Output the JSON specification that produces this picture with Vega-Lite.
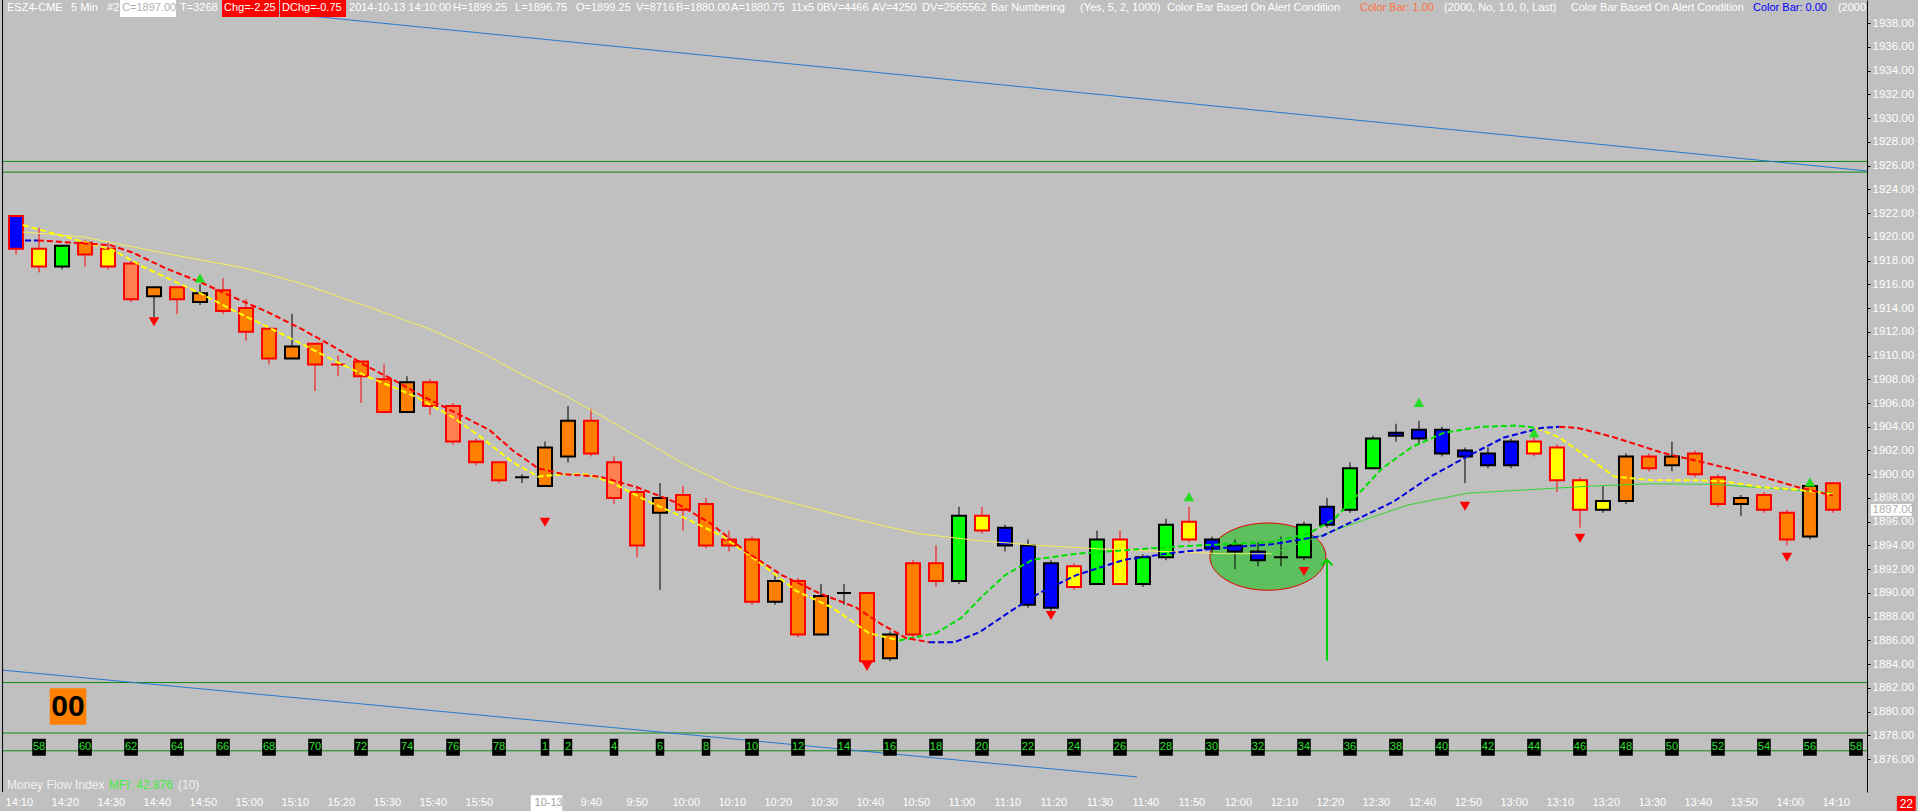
{
"$schema":"https://vega.github.io/schema/vega-lite/v6.json",
"width":1865,"height":792,
"autosize":{"type":"none"},
"padding":{"left":2,"top":0,"right":51,"bottom":19},
"background":"#C0C0C0",
"config":{"view":{"stroke":null},"text":{"font":"Liberation Sans"},"axis":{"labelFont":"Liberation Sans","domain":true,"ticks":true},"scale":{"continuousPadding":0}},
"datasets":{
"candles":[
{"i":0,"o":1919.0,"h":1921.75,"l":1918.5,"c":1921.75,"b":"blue","e":"red"},
{"i":1,"o":1919.0,"h":1920.75,"l":1917.0,"c":1917.5,"b":"yellow","e":"red"},
{"i":2,"o":1917.5,"h":1919.25,"l":1917.25,"c":1919.25,"b":"green","e":"black"},
{"i":3,"o":1919.5,"h":1919.75,"l":1917.5,"c":1918.5,"b":"orange","e":"red"},
{"i":4,"o":1919.0,"h":1919.5,"l":1917.25,"c":1917.5,"b":"yellow","e":"red"},
{"i":5,"o":1917.75,"h":1918.0,"l":1914.5,"c":1914.75,"b":"coral","e":"red"},
{"i":6,"o":1915.75,"h":1915.75,"l":1913.25,"c":1915.0,"b":"orange","e":"black"},
{"i":7,"o":1915.75,"h":1915.75,"l":1913.5,"c":1914.75,"b":"orange","e":"red"},
{"i":8,"o":1915.25,"h":1916.0,"l":1914.25,"c":1914.5,"b":"orange","e":"black"},
{"i":9,"o":1915.5,"h":1916.5,"l":1913.5,"c":1913.75,"b":"orange","e":"red"},
{"i":10,"o":1914.0,"h":1914.75,"l":1911.25,"c":1912.0,"b":"orange","e":"red"},
{"i":11,"o":1912.25,"h":1912.25,"l":1909.25,"c":1909.75,"b":"orange","e":"red"},
{"i":12,"o":1910.75,"h":1913.5,"l":1909.75,"c":1909.75,"b":"orange","e":"black"},
{"i":13,"o":1911.0,"h":1911.0,"l":1907.0,"c":1909.25,"b":"orange","e":"red"},
{"i":14,"o":1909.25,"h":1910.0,"l":1908.25,"c":1909.25,"b":"orange","e":"red"},
{"i":15,"o":1909.5,"h":1909.5,"l":1906.0,"c":1908.25,"b":"orange","e":"red"},
{"i":16,"o":1908.0,"h":1909.25,"l":1905.25,"c":1905.25,"b":"orange","e":"red"},
{"i":17,"o":1907.75,"h":1908.25,"l":1905.25,"c":1905.25,"b":"orange","e":"black"},
{"i":18,"o":1907.75,"h":1908.0,"l":1905.0,"c":1905.75,"b":"orange","e":"red"},
{"i":19,"o":1905.75,"h":1906.0,"l":1902.5,"c":1902.75,"b":"coral","e":"red"},
{"i":20,"o":1902.75,"h":1903.0,"l":1900.75,"c":1901.0,"b":"orange","e":"red"},
{"i":21,"o":1901.0,"h":1901.0,"l":1899.25,"c":1899.5,"b":"orange","e":"red"},
{"i":22,"o":1899.75,"h":1900.0,"l":1899.25,"c":1899.75,"b":"orange","e":"black"},
{"i":23,"o":1902.25,"h":1902.75,"l":1899.0,"c":1899.0,"b":"orange","e":"black"},
{"i":24,"o":1904.5,"h":1905.75,"l":1901.0,"c":1901.5,"b":"orange","e":"black"},
{"i":25,"o":1904.5,"h":1905.5,"l":1901.5,"c":1901.75,"b":"orange","e":"red"},
{"i":26,"o":1901.0,"h":1901.5,"l":1897.5,"c":1898.0,"b":"coral","e":"red"},
{"i":27,"o":1898.5,"h":1899.0,"l":1893.0,"c":1894.0,"b":"orange","e":"red"},
{"i":28,"o":1898.0,"h":1899.25,"l":1890.25,"c":1896.75,"b":"orange","e":"black"},
{"i":29,"o":1898.25,"h":1899.0,"l":1895.25,"c":1897.0,"b":"orange","e":"red"},
{"i":30,"o":1897.5,"h":1898.0,"l":1893.75,"c":1894.0,"b":"orange","e":"red"},
{"i":31,"o":1894.5,"h":1895.25,"l":1893.5,"c":1894.0,"b":"orange","e":"red"},
{"i":32,"o":1894.5,"h":1894.75,"l":1889.0,"c":1889.25,"b":"orange","e":"red"},
{"i":33,"o":1891.0,"h":1891.5,"l":1889.0,"c":1889.25,"b":"orange","e":"black"},
{"i":34,"o":1891.0,"h":1891.25,"l":1886.25,"c":1886.5,"b":"orange","e":"red"},
{"i":35,"o":1889.75,"h":1890.75,"l":1886.5,"c":1886.5,"b":"orange","e":"black"},
{"i":36,"o":1890.0,"h":1890.75,"l":1889.0,"c":1890.0,"b":"orange","e":"black"},
{"i":37,"o":1890.0,"h":1890.0,"l":1884.25,"c":1884.25,"b":"orange","e":"red"},
{"i":38,"o":1884.5,"h":1886.75,"l":1884.25,"c":1886.5,"b":"orange","e":"black"},
{"i":39,"o":1886.5,"h":1892.75,"l":1886.25,"c":1892.5,"b":"orange","e":"red"},
{"i":40,"o":1892.5,"h":1894.0,"l":1890.5,"c":1891.0,"b":"orange","e":"red"},
{"i":41,"o":1891.0,"h":1897.25,"l":1890.75,"c":1896.5,"b":"green","e":"black"},
{"i":42,"o":1896.5,"h":1897.25,"l":1895.0,"c":1895.25,"b":"yellow","e":"red"},
{"i":43,"o":1895.5,"h":1895.75,"l":1893.5,"c":1894.0,"b":"blue","e":"black"},
{"i":44,"o":1894.0,"h":1894.5,"l":1888.75,"c":1889.0,"b":"blue","e":"black"},
{"i":45,"o":1892.5,"h":1892.75,"l":1888.5,"c":1888.75,"b":"blue","e":"black"},
{"i":46,"o":1890.5,"h":1892.5,"l":1890.25,"c":1892.25,"b":"yellow","e":"red"},
{"i":47,"o":1890.75,"h":1895.25,"l":1890.75,"c":1894.5,"b":"green","e":"black"},
{"i":48,"o":1894.5,"h":1895.25,"l":1890.75,"c":1890.75,"b":"yellow","e":"red"},
{"i":49,"o":1890.75,"h":1893.25,"l":1890.5,"c":1893.0,"b":"green","e":"black"},
{"i":50,"o":1893.0,"h":1896.25,"l":1892.75,"c":1895.75,"b":"green","e":"black"},
{"i":51,"o":1896.0,"h":1897.25,"l":1894.25,"c":1894.5,"b":"yellow","e":"red"},
{"i":52,"o":1894.5,"h":1894.75,"l":1893.25,"c":1893.75,"b":"blue","e":"black"},
{"i":53,"o":1894.0,"h":1894.5,"l":1892.0,"c":1893.5,"b":"blue","e":"black"},
{"i":54,"o":1893.5,"h":1894.25,"l":1892.25,"c":1892.75,"b":"blue","e":"black"},
{"i":55,"o":1893.0,"h":1894.75,"l":1892.25,"c":1893.0,"b":"orange","e":"black"},
{"i":56,"o":1893.0,"h":1896.0,"l":1892.75,"c":1895.75,"b":"green","e":"black"},
{"i":57,"o":1895.75,"h":1898.0,"l":1895.5,"c":1897.25,"b":"blue","e":"black"},
{"i":58,"o":1897.0,"h":1901.0,"l":1896.75,"c":1900.5,"b":"green","e":"black"},
{"i":59,"o":1900.5,"h":1903.25,"l":1900.5,"c":1903.0,"b":"green","e":"black"},
{"i":60,"o":1903.25,"h":1904.25,"l":1902.75,"c":1903.5,"b":"blue","e":"black"},
{"i":61,"o":1903.0,"h":1904.5,"l":1902.5,"c":1903.75,"b":"blue","e":"black"},
{"i":62,"o":1903.75,"h":1904.0,"l":1901.5,"c":1901.75,"b":"blue","e":"black"},
{"i":63,"o":1902.0,"h":1902.25,"l":1899.25,"c":1901.5,"b":"blue","e":"black"},
{"i":64,"o":1901.75,"h":1902.25,"l":1900.5,"c":1900.75,"b":"blue","e":"black"},
{"i":65,"o":1900.75,"h":1903.0,"l":1900.5,"c":1902.75,"b":"blue","e":"black"},
{"i":66,"o":1902.75,"h":1903.25,"l":1901.5,"c":1901.75,"b":"yellow","e":"red"},
{"i":67,"o":1902.25,"h":1902.5,"l":1898.5,"c":1899.5,"b":"yellow","e":"red"},
{"i":68,"o":1899.5,"h":1899.75,"l":1895.5,"c":1897.0,"b":"yellow","e":"red"},
{"i":69,"o":1897.0,"h":1899.0,"l":1896.75,"c":1897.75,"b":"yellow","e":"black"},
{"i":70,"o":1897.75,"h":1901.75,"l":1897.5,"c":1901.5,"b":"orange","e":"black"},
{"i":71,"o":1901.5,"h":1901.75,"l":1900.25,"c":1900.5,"b":"orange","e":"red"},
{"i":72,"o":1901.5,"h":1902.75,"l":1900.25,"c":1900.75,"b":"orange","e":"black"},
{"i":73,"o":1901.75,"h":1902.0,"l":1899.75,"c":1900.0,"b":"orange","e":"red"},
{"i":74,"o":1899.75,"h":1900.0,"l":1897.25,"c":1897.5,"b":"orange","e":"red"},
{"i":75,"o":1898.0,"h":1898.25,"l":1896.5,"c":1897.5,"b":"orange","e":"black"},
{"i":76,"o":1898.25,"h":1898.5,"l":1896.75,"c":1897.0,"b":"orange","e":"red"},
{"i":77,"o":1896.75,"h":1897.0,"l":1894.0,"c":1894.5,"b":"orange","e":"red"},
{"i":78,"o":1894.75,"h":1899.25,"l":1894.5,"c":1899.0,"b":"orange","e":"black"},
{"i":79,"o":1899.25,"h":1899.25,"l":1896.75,"c":1897.0,"b":"orange","e":"red"}
],
"ma":[
{"s":"f1","t":"y","i":0.3,"v":1921.0},{"s":"f1","t":"y","i":2.9,"v":1919.6},{"s":"f1","t":"y","i":4.2,"v":1918.9},{"s":"f1","t":"y","i":5.5,"v":1917.5},{"s":"f1","t":"y","i":8,"v":1915.25},{"s":"f1","t":"y","i":9.4,"v":1913.85},{"s":"f1","t":"y","i":10.9,"v":1912.45},{"s":"f1","t":"y","i":12.35,"v":1911.05},{"s":"f1","t":"y","i":13.8,"v":1909.6},{"s":"f1","t":"y","i":15.3,"v":1908.2},{"s":"f1","t":"y","i":16.7,"v":1907.1},{"s":"f1","t":"y","i":17.4,"v":1906.5},{"s":"f1","t":"y","i":19.0,"v":1904.8},{"s":"f1","t":"y","i":20.3,"v":1903.0},{"s":"f1","t":"y","i":21.6,"v":1901.0},{"s":"f1","t":"y","i":22.7,"v":1899.8},{"s":"f1","t":"y","i":23.8,"v":1900.0},{"s":"f1","t":"y","i":24.8,"v":1900.0},{"s":"f1","t":"y","i":25.9,"v":1899.3},{"s":"f1","t":"y","i":27.5,"v":1897.7},{"s":"f1","t":"y","i":29.1,"v":1896.3},{"s":"f1","t":"y","i":30.7,"v":1894.8},{"s":"f1","t":"y","i":32.3,"v":1892.6},{"s":"f1","t":"y","i":33.9,"v":1890.2},{"s":"f1","t":"y","i":35.5,"v":1888.75},{"s":"f1","t":"y","i":37.1,"v":1886.6},{"s":"f1","t":"y","i":38.4,"v":1886.0},
{"s":"f2","t":"g","i":38.4,"v":1886.0},{"s":"f2","t":"g","i":40,"v":1886.6},{"s":"f2","t":"g","i":41.1,"v":1887.9},{"s":"f2","t":"g","i":41.9,"v":1889.5},{"s":"f2","t":"g","i":43,"v":1891.5},{"s":"f2","t":"g","i":44.2,"v":1892.8},{"s":"f2","t":"g","i":46.1,"v":1893.3},{"s":"f2","t":"g","i":48.2,"v":1893.6},{"s":"f2","t":"g","i":50.4,"v":1893.9},{"s":"f2","t":"g","i":52.5,"v":1894.1},{"s":"f2","t":"g","i":54.6,"v":1894.3},{"s":"f2","t":"g","i":56.2,"v":1895.0},{"s":"f2","t":"g","i":57.3,"v":1896.2},{"s":"f2","t":"g","i":58.3,"v":1898.2},{"s":"f2","t":"g","i":59.4,"v":1900.5},{"s":"f2","t":"g","i":60.7,"v":1902.3},{"s":"f2","t":"g","i":62.1,"v":1903.5},{"s":"f2","t":"g","i":63.7,"v":1904.0},{"s":"f2","t":"g","i":65.3,"v":1904.1},{"s":"f2","t":"g","i":66.1,"v":1903.9},
{"s":"f3","t":"y","i":66.1,"v":1903.9},{"s":"f3","t":"y","i":67.1,"v":1903.1},{"s":"f3","t":"y","i":68.5,"v":1901.2},{"s":"f3","t":"y","i":69.5,"v":1899.8},{"s":"f3","t":"y","i":71.1,"v":1899.5},{"s":"f3","t":"y","i":72.7,"v":1899.5},{"s":"f3","t":"y","i":74.3,"v":1899.4},{"s":"f3","t":"y","i":75.9,"v":1898.9},{"s":"f3","t":"y","i":77.5,"v":1898.7},{"s":"f3","t":"y","i":79,"v":1898.3},
{"s":"m1","t":"b","i":0,"v":1919.7},{"s":"m1","t":"b","i":0.95,"v":1919.7},
{"s":"m2","t":"r","i":0.95,"v":1919.7},{"s":"m2","t":"r","i":4.1,"v":1919.3},{"s":"m2","t":"r","i":5.1,"v":1918.65},{"s":"m2","t":"r","i":6.5,"v":1917.35},{"s":"m2","t":"r","i":8,"v":1916.2},{"s":"m2","t":"r","i":9.4,"v":1914.95},{"s":"m2","t":"r","i":10.9,"v":1913.7},{"s":"m2","t":"r","i":12.35,"v":1912.3},{"s":"m2","t":"r","i":13.8,"v":1910.75},{"s":"m2","t":"r","i":15.3,"v":1909.05},{"s":"m2","t":"r","i":16.7,"v":1907.65},{"s":"m2","t":"r","i":17.6,"v":1906.65},{"s":"m2","t":"r","i":19.1,"v":1905.2},{"s":"m2","t":"r","i":20.6,"v":1903.7},{"s":"m2","t":"r","i":21.6,"v":1902.0},{"s":"m2","t":"r","i":22.7,"v":1900.5},{"s":"m2","t":"r","i":23.8,"v":1900.0},{"s":"m2","t":"r","i":25.4,"v":1899.8},{"s":"m2","t":"r","i":27,"v":1898.9},{"s":"m2","t":"r","i":28.6,"v":1897.7},{"s":"m2","t":"r","i":30.2,"v":1895.85},{"s":"m2","t":"r","i":31.8,"v":1893.4},{"s":"m2","t":"r","i":33.3,"v":1891.5},{"s":"m2","t":"r","i":34.9,"v":1890.0},{"s":"m2","t":"r","i":36.5,"v":1888.8},{"s":"m2","t":"r","i":37.6,"v":1887.4},{"s":"m2","t":"r","i":38.7,"v":1886.2},{"s":"m2","t":"r","i":39.7,"v":1885.85},
{"s":"m3","t":"b","i":39.7,"v":1885.85},{"s":"m3","t":"b","i":40.8,"v":1885.85},{"s":"m3","t":"b","i":41.9,"v":1886.7},{"s":"m3","t":"b","i":43.2,"v":1888.4},{"s":"m3","t":"b","i":44.5,"v":1890.0},{"s":"m3","t":"b","i":46.1,"v":1891.5},{"s":"m3","t":"b","i":48.2,"v":1892.8},{"s":"m3","t":"b","i":50.4,"v":1893.4},{"s":"m3","t":"b","i":52.5,"v":1893.8},{"s":"m3","t":"b","i":54.6,"v":1894.1},{"s":"m3","t":"b","i":56.8,"v":1894.8},{"s":"m3","t":"b","i":58.3,"v":1896.2},{"s":"m3","t":"b","i":59.9,"v":1897.7},{"s":"m3","t":"b","i":61.5,"v":1899.8},{"s":"m3","t":"b","i":63.1,"v":1901.5},{"s":"m3","t":"b","i":64.7,"v":1903.1},{"s":"m3","t":"b","i":66.3,"v":1903.9},{"s":"m3","t":"b","i":67.1,"v":1904.0},
{"s":"m4","t":"r","i":67.1,"v":1904.0},{"s":"m4","t":"r","i":67.9,"v":1903.9},{"s":"m4","t":"r","i":69.5,"v":1903.1},{"s":"m4","t":"r","i":71.6,"v":1901.8},{"s":"m4","t":"r","i":73.8,"v":1900.8},{"s":"m4","t":"r","i":75.9,"v":1899.8},{"s":"m4","t":"r","i":77.5,"v":1898.9},{"s":"m4","t":"r","i":79,"v":1898.2}
],
"slow":[
{"s":"s1","t":"y","i":0.3,"v":1920.4},{"s":"s1","t":"y","i":2.9,"v":1920.0},{"s":"s1","t":"y","i":6.5,"v":1918.6},{"s":"s1","t":"y","i":10,"v":1917.35},{"s":"s1","t":"y","i":12.35,"v":1916.1},{"s":"s1","t":"y","i":15.3,"v":1914.1},{"s":"s1","t":"y","i":18.1,"v":1912.15},{"s":"s1","t":"y","i":20.3,"v":1910.2},{"s":"s1","t":"y","i":21.9,"v":1908.5},{"s":"s1","t":"y","i":24,"v":1906.5},{"s":"s1","t":"y","i":26,"v":1904.3},{"s":"s1","t":"y","i":29.1,"v":1900.8},{"s":"s1","t":"y","i":31.2,"v":1898.9},{"s":"s1","t":"y","i":33.9,"v":1897.5},{"s":"s1","t":"y","i":36.5,"v":1896.2},{"s":"s1","t":"y","i":39.2,"v":1895.0},{"s":"s1","t":"y","i":41.9,"v":1894.4},{"s":"s1","t":"y","i":44.5,"v":1894.0},{"s":"s1","t":"y","i":47.2,"v":1893.7},{"s":"s1","t":"y","i":49.8,"v":1893.5},{"s":"s1","t":"y","i":52.5,"v":1893.3},{"s":"s1","t":"y","i":54.6,"v":1893.3},
{"s":"s2","t":"g","i":54.6,"v":1893.3},{"s":"s2","t":"g","i":57.8,"v":1895.6},{"s":"s2","t":"g","i":60.5,"v":1897.4},{"s":"s2","t":"g","i":63.1,"v":1898.4},{"s":"s2","t":"g","i":65.8,"v":1898.7},{"s":"s2","t":"g","i":68.5,"v":1899.0},{"s":"s2","t":"g","i":71.1,"v":1899.2},{"s":"s2","t":"g","i":73.8,"v":1899.15},{"s":"s2","t":"g","i":76.4,"v":1898.8},{"s":"s2","t":"g","i":79,"v":1898.4}
],
"arrows":[
{"i":6,"v":1912.85,"d":"dn"},{"i":8,"v":1916.53,"d":"up"},{"i":23,"v":1895.96,"d":"dn"},{"i":37,"v":1883.8,"d":"dn"},{"i":45,"v":1888.1,"d":"dn"},{"i":51,"v":1898.1,"d":"up"},{"i":56,"v":1891.8,"d":"dn"},{"i":61,"v":1906.05,"d":"up"},{"i":63,"v":1897.3,"d":"dn"},{"i":66,"v":1903.5,"d":"up"},{"i":68,"v":1894.6,"d":"dn"},{"i":77,"v":1893.0,"d":"dn"},{"i":78,"v":1899.35,"d":"up"}
],
"hlines":[{"v":1926.35},{"v":1925.45},{"v":1882.45},{"v":1878.2},{"v":1876.7}],
"trend":[{"ln":"a","i":10.2,"v":1939.1},{"ln":"a","i":80.48,"v":1925.55},{"ln":"b","i":-0.61,"v":1883.5},{"ln":"b","i":48.74,"v":1874.5}],
"nums":[
{"i":1,"n":"58"},{"i":3,"n":"60"},{"i":5,"n":"62"},{"i":7,"n":"64"},{"i":9,"n":"66"},{"i":11,"n":"68"},{"i":13,"n":"70"},{"i":15,"n":"72"},{"i":17,"n":"74"},{"i":19,"n":"76"},{"i":21,"n":"78"},
{"i":23,"n":"1"},{"i":24,"n":"2"},{"i":26,"n":"4"},{"i":28,"n":"6"},{"i":30,"n":"8"},{"i":32,"n":"10"},{"i":34,"n":"12"},{"i":36,"n":"14"},{"i":38,"n":"16"},{"i":40,"n":"18"},{"i":42,"n":"20"},{"i":44,"n":"22"},{"i":46,"n":"24"},{"i":48,"n":"26"},{"i":50,"n":"28"},{"i":52,"n":"30"},{"i":54,"n":"32"},{"i":56,"n":"34"},{"i":58,"n":"36"},{"i":60,"n":"38"},{"i":62,"n":"40"},{"i":64,"n":"42"},{"i":66,"n":"44"},{"i":68,"n":"46"},{"i":70,"n":"48"},{"i":72,"n":"50"},{"i":74,"n":"52"},{"i":76,"n":"54"},{"i":78,"n":"56"},{"i":80,"n":"58"}
],
"tl":[
{"i":-0.5,"t":"14:10","k":"w"},{"i":1.5,"t":"14:20","k":"w"},{"i":3.5,"t":"14:30","k":"w"},{"i":5.5,"t":"14:40","k":"w"},{"i":7.5,"t":"14:50","k":"w"},{"i":9.5,"t":"15:00","k":"w"},{"i":11.5,"t":"15:10","k":"w"},{"i":13.5,"t":"15:20","k":"w"},{"i":15.5,"t":"15:30","k":"w"},{"i":17.5,"t":"15:40","k":"w"},{"i":19.5,"t":"15:50","k":"w"},
{"i":22.5,"t":"10-13","k":"d"},{"i":24.5,"t":"9:40","k":"w"},{"i":26.5,"t":"9:50","k":"w"},{"i":28.5,"t":"10:00","k":"w"},{"i":30.5,"t":"10:10","k":"w"},{"i":32.5,"t":"10:20","k":"w"},{"i":34.5,"t":"10:30","k":"w"},{"i":36.5,"t":"10:40","k":"w"},{"i":38.5,"t":"10:50","k":"w"},{"i":40.5,"t":"11:00","k":"w"},{"i":42.5,"t":"11:10","k":"w"},{"i":44.5,"t":"11:20","k":"w"},{"i":46.5,"t":"11:30","k":"w"},{"i":48.5,"t":"11:40","k":"w"},{"i":50.5,"t":"11:50","k":"w"},{"i":52.5,"t":"12:00","k":"w"},{"i":54.5,"t":"12:10","k":"w"},{"i":56.5,"t":"12:20","k":"w"},{"i":58.5,"t":"12:30","k":"w"},{"i":60.5,"t":"12:40","k":"w"},{"i":62.5,"t":"12:50","k":"w"},{"i":64.5,"t":"13:00","k":"w"},{"i":66.5,"t":"13:10","k":"w"},{"i":68.5,"t":"13:20","k":"w"},{"i":70.5,"t":"13:30","k":"w"},{"i":72.5,"t":"13:40","k":"w"},{"i":74.5,"t":"13:50","k":"w"},{"i":76.5,"t":"14:00","k":"w"},{"i":78.5,"t":"14:10","k":"w"}
],
"hdr":[
{"x":-0.391,"s":"ESZ4-CME","k":"w"},{"x":2.391,"s":"5 Min","k":"w"},{"x":3.957,"s":"#2","k":"w"},{"x":4.609,"s":"C=1897.00","k":"g"},{"x":7.13,"s":"T=3268","k":"w"},{"x":9.043,"s":"Chg=-2.25","k":"w"},{"x":11.565,"s":"DChg=-0.75","k":"w"},{"x":14.478,"s":"2014-10-13 14:10:00","k":"w"},{"x":19.0,"s":"H=1899.25","k":"w"},{"x":21.696,"s":"L=1896.75","k":"w"},{"x":24.348,"s":"O=1899.25","k":"w"},{"x":26.957,"s":"V=8716","k":"w"},{"x":28.7,"s":"B=1880.00","k":"w"},{"x":31.09,"s":"A=1880.75","k":"w"},{"x":33.696,"s":"11x5 0","k":"w"},{"x":35.087,"s":"BV=4466","k":"w"},{"x":37.217,"s":"AV=4250","k":"w"},{"x":39.391,"s":"DV=2565562","k":"w"},{"x":42.391,"s":"Bar Numbering","k":"w"},{"x":46.261,"s":"(Yes, 5, 2, 1000)","k":"w"},{"x":50.043,"s":"Color Bar Based On Alert Condition","k":"w"},{"x":58.435,"s":"Color Bar: 1.00","k":"o"},{"x":62.087,"s":"(2000, No, 1.0, 0, Last)","k":"w"},{"x":67.6,"s":"Color Bar Based On Alert Condition","k":"w"},{"x":75.522,"s":"Color Bar: 0.00","k":"b"},{"x":79.217,"s":"(2000","k":"w"}
],
"hbox":[{"x":4.522,"x2":6.957,"k":"white"},{"x":8.957,"x2":11.435,"k":"red"},{"x":11.478,"x2":14.348,"k":"red"}],
"mfi":[{"x":-0.391,"s":"Money Flow Index","k":"w"},{"x":4.043,"s":"MFI: 42.876","k":"g"},{"x":7.043,"s":"(10)","k":"w"}]
},
"layer":[
{"data":{"name":"hlines"},"mark":{"type":"rule","color":"#108A10","strokeWidth":1},
 "encoding":{"y":{"field":"v","type":"quantitative","scale":{"domain":[1873.23,1939.95],"nice":false,"zero":false},"axis":null}}},
{"data":{"values":[{"i":54.43,"v":1893.06}]},"mark":{"type":"point","shape":"M-1,0A1,0.58,0,1,1,1,0A1,0.58,0,1,1,-1,0Z","size":13456,"filled":true,"color":"#5DBF5D","stroke":"#E00000","strokeWidth":1,"opacity":1},
 "encoding":{"x":{"field":"i","type":"quantitative","scale":{"domain":[-0.61,80.48],"nice":false,"zero":false,"padding":0},"axis":null},"y":{"field":"v","type":"quantitative","scale":{"domain":[1873.23,1939.95],"nice":false,"zero":false},"axis":null}}},
{"data":{"name":"trend"},"mark":{"type":"line","color":"#2878D0","strokeWidth":1,"clip":true},
 "encoding":{"x":{"field":"i","type":"quantitative","scale":{"domain":[-0.61,80.48],"nice":false,"zero":false,"padding":0},"axis":null},"y":{"field":"v","type":"quantitative","scale":{"domain":[1873.23,1939.95],"nice":false,"zero":false},"axis":null},"detail":{"field":"ln"}}},
{"data":{"name":"candles"},"mark":{"type":"rule","strokeWidth":1},
 "encoding":{"x":{"field":"i","type":"quantitative","scale":{"domain":[-0.61,80.48],"nice":false,"zero":false,"padding":0},"axis":null},"y":{"field":"l","type":"quantitative","scale":{"domain":[1873.23,1939.95],"nice":false,"zero":false},"axis":null},"y2":{"field":"h"},"color":{"field":"e","type":"nominal","scale":{"domain":["red","black"],"range":["#FF0000","#000000"]},"legend":null}}},
{"data":{"name":"candles"},"mark":{"type":"bar","size":14,"strokeWidth":2},
 "encoding":{
  "x":{"field":"i","type":"quantitative","scale":{"domain":[-0.61,80.48],"nice":false,"zero":false,"padding":0},
   "axis":{"orient":"bottom","title":null,"grid":false,"zindex":1,"values":[-0.5,1.5,3.5,5.5,7.5,9.5,11.5,13.5,15.5,17.5,19.5,22.5,24.5,26.5,28.5,30.5,32.5,34.5,36.5,38.5,40.5,42.5,44.5,46.5,48.5,50.5,52.5,54.5,56.5,58.5,60.5,62.5,64.5,66.5,68.5,70.5,72.5,74.5,76.5,78.5],"labels":false,"ticks":true,"tickColor":"#000000","tickSize":4,"domain":true,"domainColor":"#000000","domainWidth":1}},
  "y":{"field":"o","type":"quantitative","scale":{"domain":[1873.23,1939.95],"nice":false,"zero":false},
   "axis":{"orient":"right","title":null,"grid":false,"zindex":1,"values":[1876,1878,1880,1882,1884,1886,1888,1890,1892,1894,1896,1898,1900,1902,1904,1906,1908,1910,1912,1914,1916,1918,1920,1922,1924,1926,1928,1930,1932,1934,1936,1938],"format":".2f","labelColor":"#FFFFFF","labelFontSize":11.5,"labelPadding":2,"tickSize":3,"ticks":true,"tickColor":"#000000","domain":true,"domainColor":"#000000","domainWidth":1,"labelOverlap":false,"labelBound":false,"labelFlush":false}},
  "y2":{"field":"c"},
  "fill":{"field":"b","type":"nominal","scale":{"domain":["blue","yellow","green","orange","coral"],"range":["#0000FF","#FFFF00","#00FF00","#FF8000","#FF7F50"]},"legend":null},
  "stroke":{"field":"e","type":"nominal","scale":{"domain":["red","black"],"range":["#FF0000","#000000"]},"legend":null}}},
{"data":{"name":"slow"},"mark":{"type":"line","strokeWidth":1},
 "encoding":{"x":{"field":"i","type":"quantitative","scale":{"domain":[-0.61,80.48],"nice":false,"zero":false,"padding":0},"axis":null},"y":{"field":"v","type":"quantitative","scale":{"domain":[1873.23,1939.95],"nice":false,"zero":false},"axis":null},"color":{"field":"t","type":"nominal","scale":{"domain":["y","g"],"range":["#F5EE5A","#33D433"]},"legend":null},"detail":{"field":"s"}}},
{"data":{"name":"ma"},"mark":{"type":"line","strokeWidth":2,"strokeDash":[6,3]},
 "encoding":{"x":{"field":"i","type":"quantitative","scale":{"domain":[-0.61,80.48],"nice":false,"zero":false,"padding":0},"axis":null},"y":{"field":"v","type":"quantitative","scale":{"domain":[1873.23,1939.95],"nice":false,"zero":false},"axis":null},"color":{"field":"t","type":"nominal","scale":{"domain":["y","g","r","b"],"range":["#FFFF00","#00E000","#FF0000","#0000E0"]},"legend":null},"detail":{"field":"s"}}},
{"data":{"name":"arrows"},"transform":[{"filter":"datum.d == 'dn'"}],"mark":{"type":"point","shape":"triangle-down","size":110,"filled":true,"color":"#FF0000","opacity":1},
 "encoding":{"x":{"field":"i","type":"quantitative","scale":{"domain":[-0.61,80.48],"nice":false,"zero":false,"padding":0},"axis":null},"y":{"field":"v","type":"quantitative","scale":{"domain":[1873.23,1939.95],"nice":false,"zero":false},"axis":null}}},
{"data":{"name":"arrows"},"transform":[{"filter":"datum.d == 'up'"}],"mark":{"type":"point","shape":"triangle-up","size":110,"filled":true,"color":"#22DD22","opacity":1},
 "encoding":{"x":{"field":"i","type":"quantitative","scale":{"domain":[-0.61,80.48],"nice":false,"zero":false,"padding":0},"axis":null},"y":{"field":"v","type":"quantitative","scale":{"domain":[1873.23,1939.95],"nice":false,"zero":false},"axis":null}}},
{"data":{"values":[{"i":57,"lo":1884.3,"hi":1892.8}]},"mark":{"type":"rule","color":"#00D000","strokeWidth":2},
 "encoding":{"x":{"field":"i","type":"quantitative","scale":{"domain":[-0.61,80.48],"nice":false,"zero":false,"padding":0},"axis":null},"y":{"field":"lo","type":"quantitative","scale":{"domain":[1873.23,1939.95],"nice":false,"zero":false},"axis":null},"y2":{"field":"hi"}}},
{"data":{"values":[{"i":57,"v":1892.8}]},"mark":{"type":"point","shape":"M-1,1L0,0L1,1","size":120,"filled":false,"color":"#00D000","strokeWidth":2,"opacity":1},
 "encoding":{"x":{"field":"i","type":"quantitative","scale":{"domain":[-0.61,80.48],"nice":false,"zero":false,"padding":0},"axis":null},"y":{"field":"v","type":"quantitative","scale":{"domain":[1873.23,1939.95],"nice":false,"zero":false},"axis":null}}},
{"data":{"name":"nums"},"transform":[{"filter":"length(datum.n) > 1"}],"mark":{"type":"point","shape":"M-0.8,-1H0.8V1H-0.8Z","size":289,"filled":true,"color":"#000000","opacity":1},
 "encoding":{"x":{"field":"i","type":"quantitative","scale":{"domain":[-0.61,80.48],"nice":false,"zero":false,"padding":0},"axis":null},"y":{"datum":1877.0,"type":"quantitative","scale":{"domain":[1873.23,1939.95],"nice":false,"zero":false},"axis":null}}},
{"data":{"name":"nums"},"transform":[{"filter":"length(datum.n) == 1"}],"mark":{"type":"point","shape":"M-0.5,-1H0.5V1H-0.5Z","size":289,"filled":true,"color":"#000000","opacity":1},
 "encoding":{"x":{"field":"i","type":"quantitative","scale":{"domain":[-0.61,80.48],"nice":false,"zero":false,"padding":0},"axis":null},"y":{"datum":1877.0,"type":"quantitative","scale":{"domain":[1873.23,1939.95],"nice":false,"zero":false},"axis":null}}},
{"data":{"name":"nums"},"mark":{"type":"text","color":"#2BE02B","fontSize":11,"baseline":"middle","align":"center"},
 "encoding":{"x":{"field":"i","type":"quantitative","scale":{"domain":[-0.61,80.48],"nice":false,"zero":false,"padding":0},"axis":null},"y":{"datum":1877.0,"type":"quantitative","scale":{"domain":[1873.23,1939.95],"nice":false,"zero":false},"axis":null},"text":{"field":"n"}}},
{"data":{"values":[{"i":2.26,"v":1880.44}]},"mark":{"type":"point","shape":"square","size":1330,"filled":true,"color":"#FF8000","opacity":1},
 "encoding":{"x":{"field":"i","type":"quantitative","scale":{"domain":[-0.61,80.48],"nice":false,"zero":false,"padding":0},"axis":null},"y":{"field":"v","type":"quantitative","scale":{"domain":[1873.23,1939.95],"nice":false,"zero":false},"axis":null}}},
{"data":{"values":[{"i":2.26,"v":1880.44,"s":"00"}]},"mark":{"type":"text","fontSize":30,"fontWeight":"bold","color":"#000000","baseline":"middle","align":"center","dy":1},
 "encoding":{"x":{"field":"i","type":"quantitative","scale":{"domain":[-0.61,80.48],"nice":false,"zero":false,"padding":0},"axis":null},"y":{"field":"v","type":"quantitative","scale":{"domain":[1873.23,1939.95],"nice":false,"zero":false},"axis":null},"text":{"field":"s"}}},
{"data":{"name":"hbox"},"mark":{"type":"rect"},
 "encoding":{"x":{"field":"x","type":"quantitative","scale":{"domain":[-0.61,80.48],"nice":false,"zero":false,"padding":0},"axis":null},"x2":{"field":"x2"},"y":{"datum":1939.95,"type":"quantitative","scale":{"domain":[1873.23,1939.95],"nice":false,"zero":false},"axis":null},"y2":{"datum":1938.52},"color":{"field":"k","type":"nominal","scale":{"domain":["white","red"],"range":["#FFFFFF","#FF0000"]},"legend":null}}},
{"data":{"name":"hdr"},"mark":{"type":"text","align":"left","baseline":"middle","fontSize":11,"clip":true},
 "encoding":{"x":{"field":"x","type":"quantitative","scale":{"domain":[-0.61,80.48],"nice":false,"zero":false,"padding":0},"axis":null},"y":{"datum":1939.25,"type":"quantitative","scale":{"domain":[1873.23,1939.95],"nice":false,"zero":false},"axis":null},"text":{"field":"s"},"color":{"field":"k","type":"nominal","scale":{"domain":["w","g","o","b"],"range":["#FFFFFF","#B0B0B0","#FF7040","#0000FF"]},"legend":null}}},
{"data":{"name":"mfi"},"mark":{"type":"text","align":"left","baseline":"middle","fontSize":12},
 "encoding":{"x":{"field":"x","type":"quantitative","scale":{"domain":[-0.61,80.48],"nice":false,"zero":false,"padding":0},"axis":null},"y":{"datum":1873.82,"type":"quantitative","scale":{"domain":[1873.23,1939.95],"nice":false,"zero":false},"axis":null},"text":{"field":"s"},"color":{"field":"k","type":"nominal","scale":{"domain":["w","g"],"range":["#F0F0F0","#44EE44"]},"legend":null}}},
{"data":{"values":[{"s":"frame"}]},"mark":{"type":"rule","color":"#000000","strokeWidth":1},
 "encoding":{"x":{"datum":-0.585,"type":"quantitative","scale":{"domain":[-0.61,80.48],"nice":false,"zero":false,"padding":0},"axis":null}}},
{"data":{"values":[{"s":"1897.00"}]},"mark":{"type":"rect","color":"#FFFFFF"},
 "encoding":{"x":{"datum":80.65,"type":"quantitative","scale":{"domain":[-0.61,80.48],"nice":false,"zero":false,"padding":0},"axis":null},"x2":{"datum":82.43},"y":{"datum":1897.5,"type":"quantitative","scale":{"domain":[1873.23,1939.95],"nice":false,"zero":false},"axis":null},"y2":{"datum":1896.5}}},
{"data":{"values":[{"s":"1897.00"}]},"mark":{"type":"text","align":"left","baseline":"middle","fontSize":11.5,"color":"#B0B0B0"},
 "encoding":{"x":{"datum":80.72,"type":"quantitative","scale":{"domain":[-0.61,80.48],"nice":false,"zero":false,"padding":0},"axis":null},"y":{"datum":1897.0,"type":"quantitative","scale":{"domain":[1873.23,1939.95],"nice":false,"zero":false},"axis":null},"text":{"field":"s"}}},
{"data":{"values":[{"s":"10-13"}]},"mark":{"type":"rect","color":"#FFFFFF"},
 "encoding":{"x":{"datum":22.38,"type":"quantitative","scale":{"domain":[-0.61,80.48],"nice":false,"zero":false,"padding":0},"axis":null},"x2":{"datum":23.75},"y":{"datum":1872.95,"type":"quantitative","scale":{"domain":[1873.23,1939.95],"nice":false,"zero":false},"axis":null},"y2":{"datum":1871.6}}},
{"data":{"name":"tl"},"mark":{"type":"text","align":"left","baseline":"middle","fontSize":11,"dx":1},
 "encoding":{"x":{"field":"i","type":"quantitative","scale":{"domain":[-0.61,80.48],"nice":false,"zero":false,"padding":0},"axis":null},"y":{"datum":1872.3,"type":"quantitative","scale":{"domain":[1873.23,1939.95],"nice":false,"zero":false},"axis":null},"text":{"field":"t"},"color":{"field":"k","type":"nominal","scale":{"domain":["w","d"],"range":["#FFFFFF","#A0A0A0"]},"legend":null}}},
{"data":{"values":[{"s":"22"}]},"mark":{"type":"rect","color":"#FF0000"},
 "encoding":{"x":{"datum":81.78,"type":"quantitative","scale":{"domain":[-0.61,80.48],"nice":false,"zero":false,"padding":0},"axis":null},"x2":{"datum":82.6},"y":{"datum":1872.9,"type":"quantitative","scale":{"domain":[1873.23,1939.95],"nice":false,"zero":false},"axis":null},"y2":{"datum":1871.6}}},
{"data":{"values":[{"s":"22"}]},"mark":{"type":"text","align":"center","baseline":"middle","fontSize":12,"color":"#FFFFFF"},
 "encoding":{"x":{"datum":82.19,"type":"quantitative","scale":{"domain":[-0.61,80.48],"nice":false,"zero":false,"padding":0},"axis":null},"y":{"datum":1872.25,"type":"quantitative","scale":{"domain":[1873.23,1939.95],"nice":false,"zero":false},"axis":null},"text":{"field":"s"}}}
],
"resolve":{"scale":{"color":"independent"},"axis":{"y":"independent"}}
}
